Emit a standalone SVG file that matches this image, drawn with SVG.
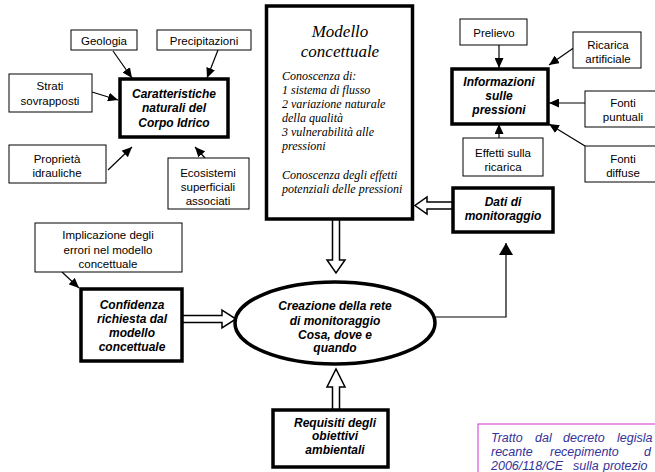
<svg xmlns="http://www.w3.org/2000/svg" width="655" height="472" viewBox="0 0 655 472">
<style>
.thin{fill:#fff;stroke:#000;stroke-width:1}
.thick{fill:#fff;stroke:#000;stroke-width:3.5}
.t{font-family:"Liberation Sans",Arial,sans-serif;font-size:11.5px;text-anchor:middle;fill:#000}
.b{font-family:"Liberation Sans",Arial,sans-serif;font-size:12px;font-weight:bold;font-style:italic;text-anchor:middle;fill:#000}
.m{font-family:"Liberation Serif","Times New Roman",serif;font-style:italic;fill:#000}
.ln{stroke:#000;stroke-width:1.2;fill:none;marker-end:url(#ah)}
.dbl{fill:#fff;stroke:#000;stroke-width:1.5}
.note{font-family:"Liberation Sans",Arial,sans-serif;font-size:12.5px;font-style:italic;fill:#333399}
</style>
<defs>
<marker id="ah" markerUnits="userSpaceOnUse" markerWidth="11" markerHeight="9" refX="10" refY="4.5" orient="auto"><path d="M0,0 L10,4.5 L0,9 z" fill="#000"/></marker>
<marker id="ahl" markerUnits="userSpaceOnUse" markerWidth="13" markerHeight="15" refX="12" refY="7" orient="auto"><path d="M0,0 L12,7 L0,14 z" fill="#000"/></marker>
</defs>
<rect width="655" height="472" fill="#fff"/>
<g id="connectors">
<line class="ln" x1="113" y1="51" x2="132" y2="78"/>
<line class="ln" x1="218" y1="50" x2="207" y2="78"/>
<line class="ln" x1="92" y1="92" x2="118" y2="100"/>
<line class="ln" x1="108" y1="170" x2="132" y2="147"/>
<line class="ln" x1="205" y1="158" x2="195" y2="147"/>
<line class="ln" x1="499" y1="45" x2="499" y2="68"/>
<line class="ln" x1="575" y1="47" x2="549" y2="65"/>
<line class="ln" x1="585" y1="103" x2="549" y2="103"/>
<line class="ln" x1="585" y1="146" x2="549" y2="124"/>
<line class="ln" x1="499" y1="138" x2="499" y2="124"/>
<line class="ln" x1="62" y1="272" x2="79" y2="288"/>
<polyline points="435,317 506,317 506,243" fill="none" stroke="#000" stroke-width="1.2" marker-end="url(#ahl)"/>
<path class="dbl" d="M332.5,220 V260 H327 L336,273 L345,260 H339.5 V220"/>
<path class="dbl" d="M332.5,410 V387 H327 L336,369 L345,387 H339.5 V410"/>
<path class="dbl" d="M183,315.5 H222 V310 L236,319 L222,328 V322.5 H183"/>
<path class="dbl" d="M452,202 H427 V197 L415,205.5 L427,214 V209 H452"/>
</g>
<g id="geologia"><rect class="thin" x="71" y="30" width="66" height="20"/><text class="t" x="104" y="45">Geologia</text></g>
<g id="precipitazioni"><rect class="thin" x="157" y="30" width="94" height="20"/><text class="t" x="204" y="45">Precipitazioni</text></g>
<g id="strati"><rect class="thin" x="9" y="74" width="83" height="38"/><text class="t" x="50" y="90">Strati</text><text class="t" x="50" y="105">sovrapposti</text></g>
<g id="caratteristiche"><rect class="thick" x="120" y="79" width="108" height="58"/><text class="b" x="174" y="98">Caratteristiche</text><text class="b" x="174" y="112">naturali del</text><text class="b" x="174" y="127">Corpo Idrico</text></g>
<g id="proprieta"><rect class="thin" x="9" y="145" width="97" height="38"/><text class="t" x="57" y="163">Proprietà</text><text class="t" x="57" y="177">idrauliche</text></g>
<g id="ecosistemi"><rect class="thin" x="168" y="158" width="81" height="51"/><text class="t" x="208" y="177">Ecosistemi</text><text class="t" x="208" y="191">superficiali</text><text class="t" x="208" y="205">associati</text></g>
<g id="modello"><rect class="thick" x="266.5" y="6" width="146" height="213"/>
<text class="m" x="340" y="37" font-size="17" text-anchor="middle">Modello</text>
<text class="m" x="340" y="57" font-size="17" text-anchor="middle">concettuale</text>
<text class="m" font-size="12"><tspan x="282" y="80">Conoscenza di:</tspan><tspan x="282" y="94">1 sistema di flusso</tspan><tspan x="282" y="108">2 variazione naturale</tspan><tspan x="282" y="122">della qualità</tspan><tspan x="282" y="136">3 vulnerabilità alle</tspan><tspan x="282" y="150">pressioni</tspan><tspan x="282" y="179">Conoscenza degli effetti</tspan><tspan x="282" y="193">potenziali delle pressioni</tspan></text></g>
<g id="prelievo"><rect class="thin" x="460" y="19" width="67" height="26"/><text class="t" x="494" y="37">Prelievo</text></g>
<g id="ricarica"><rect class="thin" x="573" y="32" width="68" height="36"/><text class="t" x="608" y="49">Ricarica</text><text class="t" x="608" y="63">artificiale</text></g>
<g id="informazioni"><rect class="thick" x="452" y="69" width="96" height="55"/><text class="b" x="499" y="86" font-weight="normal">Informazioni</text><text class="b" x="499" y="100" font-weight="normal">sulle</text><text class="b" x="499" y="114" font-weight="normal">pressioni</text></g>
<g id="fonti-puntuali"><rect class="thin" x="585" y="91" width="80" height="36"/><text class="t" x="623" y="107">Fonti</text><text class="t" x="623" y="121">puntuali</text></g>
<g id="effetti"><rect class="thin" x="463" y="138" width="80" height="38"/><text class="t" x="503" y="157">Effetti sulla</text><text class="t" x="503" y="171">ricarica</text></g>
<g id="fonti-diffuse"><rect class="thin" x="585" y="146" width="80" height="36"/><text class="t" x="623" y="163">Fonti</text><text class="t" x="623" y="177">diffuse</text></g>
<g id="dati"><rect class="thick" x="453" y="188" width="100" height="44"/><text class="b" x="503" y="206">Dati di</text><text class="b" x="503" y="220">monitoraggio</text></g>
<g id="implicazione"><rect class="thin" x="35" y="223" width="147" height="49"/><text class="t" x="108" y="239">Implicazione degli</text><text class="t" x="108" y="254">errori nel modello</text><text class="t" x="108" y="268">concettuale</text></g>
<g id="confidenza"><rect class="thick" x="81" y="289" width="101" height="72"/><text class="b" x="132" y="309">Confidenza</text><text class="b" x="132" y="323">richiesta dal</text><text class="b" x="132" y="337">modello</text><text class="b" x="132" y="351">concettuale</text></g>
<g id="creazione"><ellipse class="thick" cx="335" cy="323" rx="100" ry="41"/><text class="b" x="335" y="310">Creazione della rete</text><text class="b" x="335" y="325">di monitoraggio</text><text class="b" x="335" y="339">Cosa, dove  e</text><text class="b" x="335" y="352">quando</text></g>
<g id="requisiti"><rect class="thick" x="273" y="410" width="115" height="57"/><text class="b" x="335" y="427">Requisiti degli</text><text class="b" x="335" y="440">obiettivi</text><text class="b" x="335" y="454">ambientali</text></g>
<g id="nota"><rect x="478" y="424" width="200" height="60" fill="#fff" stroke="#CC33CC" stroke-width="1"/>
<text class="note"><tspan x="491" y="442">Tratto</tspan><tspan x="535" y="442">dal</tspan><tspan x="563" y="442">decreto</tspan><tspan x="617" y="442">legisla</tspan></text>
<text class="note"><tspan x="491" y="456">recante</tspan><tspan x="550" y="456">recepimento</tspan><tspan x="644" y="456">d</tspan></text>
<text class="note"><tspan x="491" y="470">2006/118/CE</tspan><tspan x="573" y="470">sulla</tspan><tspan x="603" y="470">protezio</tspan></text></g>
</svg>
